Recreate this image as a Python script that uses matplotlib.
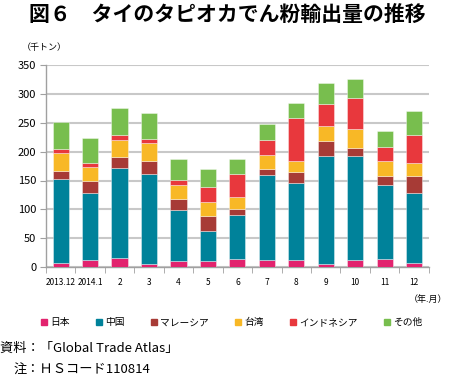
import numpy as np
import matplotlib
matplotlib.use('Agg')
import matplotlib.pyplot as plt
from matplotlib.patches import Patch

plt.rcParams['font.family'] = ['Noto Sans CJK JP', 'DejaVu Sans']

# data (thousand tons)
months = ['2013.12', '2014.1', '2', '3', '4', '5', '6', '7', '8', '9', '10', '11', '12']
japan = [8, 13, 15, 5, 10, 10, 14, 13, 13, 6, 12, 14, 8]
china = [144, 116, 157, 156, 89, 53, 76, 146, 132, 186, 180, 128, 120]
malaysia = [15, 20, 18, 22, 19, 26, 11, 11, 19, 26, 15, 15, 29]
taiwan = [30, 24, 30, 32, 24, 24, 21, 24, 20, 27, 32, 27, 23]
indonesia = [7, 7, 8, 7, 9, 26, 39, 26, 74, 37, 54, 24, 48]
other = [48, 43, 47, 45, 36, 31, 26, 28, 26, 37, 32, 28, 42]

series = [japan, china, malaysia, taiwan, indonesia, other]
names = ['日本', '中国', 'マレーシア', '台湾', 'インドネシア', 'その他']
colors = ['#E2236E', '#00829A', '#A73B36', '#F8B826', '#E8383D', '#78BE4E']

fig = plt.figure(figsize=(4.5, 3.8), dpi=100)
ax = fig.add_axes([0.102, 0.297, 0.851, 0.532])

x = np.arange(len(months))
bottom = np.zeros(len(months))
for vals, c in zip(series, colors):
    ax.bar(x, vals, 0.55, bottom=bottom, color=c,
           edgecolor=(1, 1, 1, 0.45), linewidth=0.6, zorder=3)
    bottom += np.array(vals)

ax.set_xlim(-0.5, len(months) - 0.5)
ax.set_ylim(0, 350)
ax.set_yticks(np.arange(0, 351, 50))
ax.yaxis.grid(True, color='#C8C8C8', linewidth=1.5, zorder=0)
ax.set_axisbelow(True)
for s in ['top', 'right']:
    ax.spines[s].set_visible(False)
for s in ['left', 'bottom']:
    ax.spines[s].set_color('#A0A0A0')
    ax.spines[s].set_linewidth(1)

ax.set_xticks(x)
ax.set_xticklabels(months, fontsize=6)
ax.set_xticks(np.arange(-0.5, len(months), 1), minor=True)
ax.tick_params(axis='x', which='major', length=0, pad=8)
ax.tick_params(axis='x', which='minor', length=4, color='#A0A0A0', direction='out')
ax.tick_params(axis='y', length=4, color='#A0A0A0', labelsize=8, pad=3)

fig.text(0.506, 0.963, '図６　タイのタピオカでん粉輸出量の推移', ha='center', va='center',
         fontsize=15, fontweight='bold')
fig.text(0.048, 0.876, '（千トン）', ha='left', va='center', fontsize=6.5)
fig.text(0.993, 0.211, '（年.月）', ha='right', va='center', fontsize=6.5)

handles = [Patch(color=c, label=n) for c, n in zip(colors, names)]
fig.legend(handles=handles, loc='center', bbox_to_anchor=(0.515, 0.152), ncol=6,
           frameon=False, fontsize=7, handlelength=0.6, handleheight=0.6,
           handletextpad=0.3, columnspacing=2.75)

fig.text(0.0, 0.082, '資料：「Global Trade Atlas」', ha='left', va='center', fontsize=9.5)
fig.text(0.031, 0.026, '注：ＨＳコード110814', ha='left', va='center', fontsize=9.5)

fig.savefig('out.png', dpi=100)
